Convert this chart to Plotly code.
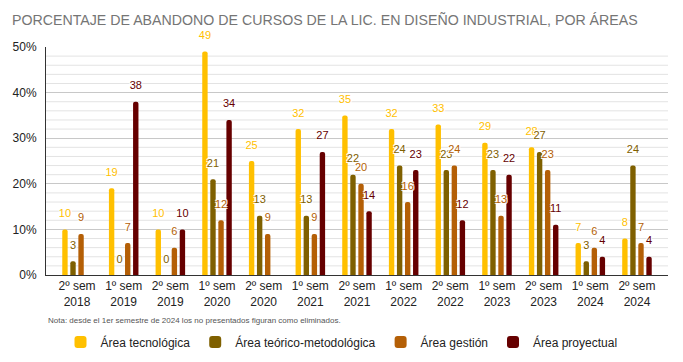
import plotly.graph_objects as go

categories = ["2º sem<br>2018", "1º sem<br>2019", "2º sem<br>2019", "1º sem<br>2020",
              "2º sem<br>2020", "1º sem<br>2021", "2º sem<br>2021", "1º sem<br>2022",
              "2º sem<br>2022", "1º sem<br>2023", "2º sem<br>2023", "1º sem<br>2024",
              "2º sem<br>2024"]
tecnologica = [10, 19, 10, 49, 25, 32, 35, 32, 33, 29, 28, 7, 8]
teorico = [3, 0, 0, 21, 13, 13, 22, 24, 23, 23, 27, 3, 24]
gestion = [9, 7, 6, 12, 9, 9, 20, 16, 24, 13, 23, 6, 7]
proyectual = [None, 38, 10, 34, None, 27, 14, 23, 12, 22, 11, 4, 4]

series_names = ["Área tecnológica", "Área teórico-metodológica", "Área gestión", "Área proyectual"]
series_values = [tecnologica, teorico, gestion, proyectual]
colors = ["#FFC000", "#7F6000", "#B45F06", "#660000"]

title = "PORCENTAJE DE ABANDONO DE CURSOS DE LA LIC. EN DISEÑO INDUSTRIAL, POR ÁREAS"
note = "Nota: desde el 1er semestre de 2024 los no presentados figuran como eliminados."

FONT = "Arial, Liberation Sans, sans-serif"
halo = "1px 1px 0 #fff, -1px -1px 0 #fff, 1px -1px 0 #fff, -1px 1px 0 #fff"
GAP = 0.31
Y_MAX, MAJOR_STEP, MINOR_STEP = 50, 10, 2

fig = go.Figure()
for name, vals, col in zip(series_names, series_values, colors):
    fig.add_trace(go.Bar(x=categories, y=vals, name=name, marker_color=col,
                         marker_line_width=0, hoverinfo="x+y+name",
                         offsetgroup=name))
for name, vals, col in zip(series_names, series_values, colors):
    fig.add_trace(go.Scatter(
        x=categories, y=vals, mode="markers+text",
        text=[str(v) if v is not None else "" for v in vals],
        textposition="top center", cliponaxis=False,
        textfont=dict(color=col, size=11, family=FONT, shadow=halo),
        marker=dict(size=14, opacity=0), showlegend=False, hoverinfo="skip",
        offsetgroup=name))

# light minor gridlines (every 2 %)
minor_shapes = [dict(type="line", xref="paper", x0=0, x1=1, yref="y", y0=v, y1=v,
                     line=dict(color="#e3e3e3", width=1), layer="below")
                for v in range(0, Y_MAX + 1, MINOR_STEP) if v % MAJOR_STEP != 0]

pad = 0.165
fig.update_layout(
    width=683, height=362,
    margin=dict(l=46, r=15, t=47, b=87),
    paper_bgcolor="white", plot_bgcolor="white",
    barmode="group", bargap=GAP, bargroupgap=0.33, barcornerradius=3,
    scattermode="group", scattergap=GAP,
    font=dict(family=FONT, size=12, color="#222222"),
    title=dict(text=title, x=12 / 683, xanchor="left", xref="container",
               y=1 - 20 / 362, yanchor="middle", yref="container",
               font=dict(size=14.2, color="#757575", family=FONT)),
    xaxis=dict(type="category", categoryorder="array", categoryarray=categories,
               range=[-0.5 - pad, len(categories) - 0.5 + pad],
               showline=True, linecolor="#333333", linewidth=1, showgrid=False,
               ticks="", tickfont=dict(size=12, color="#222222"), fixedrange=True),
    yaxis=dict(range=[0, Y_MAX], tickmode="linear", tick0=0, dtick=MAJOR_STEP, ticksuffix="%",
               showline=True, linecolor="#333333", linewidth=1,
               gridcolor="#c8c8c8", gridwidth=1, zeroline=False,
               ticks="", ticklabelstandoff=6,
               tickfont=dict(size=12, color="#222222")),
    shapes=minor_shapes,
    legend=dict(orientation="h", x=0.5, xanchor="center", xref="container",
                y=1 - 342 / 362, yanchor="middle", yref="container",
                font=dict(size=12, color="#222222"), itemwidth=30),
    annotations=[dict(text=note, xref="paper", yref="paper", x=0, xanchor="left",
                      y=(275 - 320) / 228, yanchor="middle", showarrow=False,
                      font=dict(size=8, color="#555555"))],
)

fig.write_html("out.html", config={"displayModeBar": False},
               post_script="document.body.style.margin='0';")
